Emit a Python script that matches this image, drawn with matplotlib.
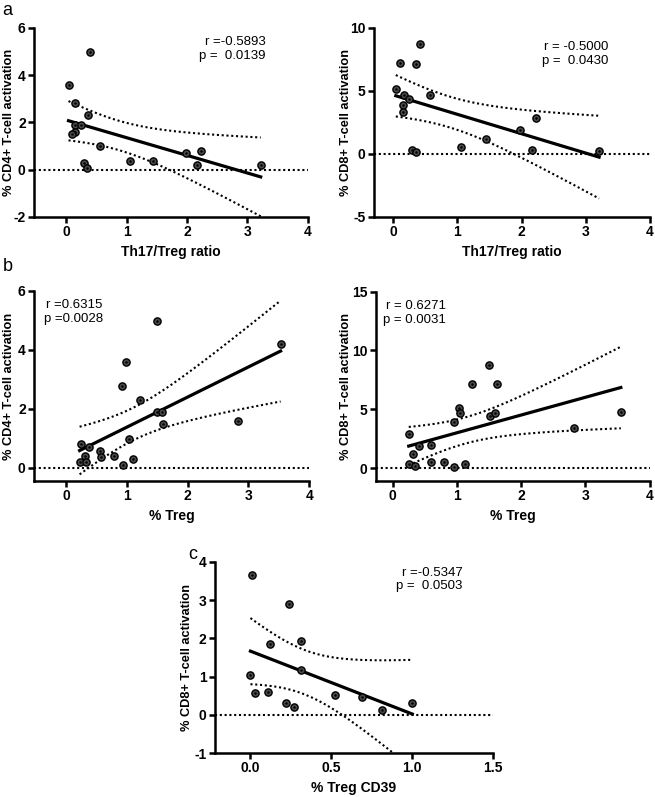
import numpy as np
import matplotlib
matplotlib.use('Agg')
import matplotlib.pyplot as plt

plt.rcParams['font.family'] = ['Liberation Sans', 'DejaVu Sans']
plt.rcParams['axes.unicode_minus'] = False

# panel a, left: Th17/Treg ratio vs CD4+ activation
a1_x = [0.04, 0.40, 0.14, 0.36, 0.15, 0.24, 0.15, 0.10, 0.56, 0.30, 0.35,
        1.06, 1.44, 1.98, 2.23, 2.17, 3.22]
a1_y = [3.60, 5.00, 2.80, 2.30, 1.90, 1.90, 1.57, 1.50, 1.00, 0.28, 0.08,
        0.38, 0.38, 0.70, 0.78, 0.18, 0.18]
# panel a, right: Th17/Treg ratio vs CD8+ activation
a2_x = [0.04, 0.10, 0.41, 0.36, 0.17, 0.25, 0.15, 0.15, 0.57, 0.30, 0.35,
        1.06, 1.44, 1.98, 2.23, 2.16, 3.21]
a2_y = [5.12, 7.18, 8.76, 7.12, 4.64, 4.38, 3.85, 3.35, 4.64, 0.29, 0.13,
        0.53, 1.16, 1.90, 2.88, 0.34, 0.21]
# panel b, left: % Treg vs CD4+ activation
b1_x = [1.49, 0.99, 0.92, 1.21, 1.50, 1.57, 1.60, 3.53, 2.82, 0.24,
        0.38, 0.31, 0.22, 0.32, 1.03, 0.56, 0.57, 0.78, 1.10, 0.94]
b1_y = [4.98, 3.58, 2.79, 2.30, 1.89, 1.89, 1.50, 4.19, 1.59, 0.80,
        0.70, 0.41, 0.19, 0.19, 0.99, 0.56, 0.38, 0.39, 0.29, 0.09]
# panel b, right: % Treg vs CD8+ activation
b2_x = [1.50, 1.23, 1.62, 1.03, 1.05, 1.52, 1.59, 0.95, 3.55, 2.82,
        0.26, 0.41, 0.59, 0.32, 0.25, 0.34, 0.60, 0.80, 0.96, 1.12]
b2_y = [8.80, 7.16, 7.16, 5.15, 4.67, 4.39, 4.67, 3.88, 4.75, 3.37,
        2.89, 1.87, 1.92, 1.19, 0.34, 0.20, 0.51, 0.48, 0.11, 0.31]
# panel c: % Treg CD39 vs CD8+ activation
c_x = [0.01, 0.24, 0.31, 0.12, 0.00, 0.31, 0.03, 0.11, 0.22, 0.27,
       0.52, 0.69, 0.81, 1.00]
c_y = [3.67, 2.90, 1.93, 1.86, 1.05, 1.17, 0.57, 0.61, 0.32, 0.21,
       0.51, 0.48, 0.13, 0.30]

# t(0.975, n-2) for the 95% confidence bands
t_crit = {15: 2.131, 18: 2.101, 12: 2.179}

stats_a1 = 'r =-0.5893\np =  0.0139'
stats_a2 = 'r = -0.5000\np =  0.0430'
stats_b1 = 'r =0.6315\np =0.0028'
stats_b2 = 'r = 0.6271\np = 0.0031'
stats_c = 'r =-0.5347\np =  0.0503'

fig = plt.figure(figsize=(6.55, 7.97), dpi=100)
dots = (0, (1, 1.3))


def panel(rect, x, y, xlim, ylim, xticks, yticks, xlabel, ylabel, stats, stx, sty, ylx, xfmt=None):
    ax = fig.add_axes(rect)
    x = np.asarray(x)
    y = np.asarray(y)
    n = len(x)
    slope, icpt = np.polyfit(x, y, 1)
    xs = np.linspace(x.min(), x.max(), 100)
    yh = slope * xs + icpt
    resid = y - (slope * x + icpt)
    s = np.sqrt(np.sum(resid ** 2) / (n - 2))
    sxx = np.sum((x - x.mean()) ** 2)
    half = t_crit[n - 2] * s * np.sqrt(1.0 / n + (xs - x.mean()) ** 2 / sxx)
    ax.axhline(0, color='black', lw=1.5, ls=dots, clip_on=False, zorder=1)
    ax.plot(xs, yh + half, color='black', lw=1.5, ls=dots, zorder=2)
    ax.plot(xs, yh - half, color='black', lw=1.5, ls=dots, zorder=2)
    ax.plot(xs, yh, color='black', lw=2.3, zorder=3)
    ax.plot(x, y, 'o', ms=5.2, mfc='#4a4a4a', mec='black', mew=1.0, zorder=4)
    ax.plot(x, y, '.', ms=1.5, color='black', zorder=5)
    ax.set_xlim(*xlim)
    ax.set_ylim(*ylim)
    ax.set_xticks(xticks)
    ax.set_yticks(yticks)
    if xfmt:
        ax.set_xticklabels([xfmt % v for v in xticks])
    for sp in ['top', 'right']:
        ax.spines[sp].set_visible(False)
    for sp in ['left', 'bottom']:
        ax.spines[sp].set_linewidth(1.8)
    ax.tick_params(width=1.8, length=4, labelsize=10, pad=2)
    for lab in ax.get_xticklabels() + ax.get_yticklabels():
        lab.set_fontweight('bold')
    ax.set_xlabel(xlabel, fontsize=10, fontweight='bold', labelpad=4)
    ax.set_ylabel(ylabel, fontsize=9.2, fontweight='bold')
    ax.yaxis.set_label_coords(ylx, 0.5)
    ax.text(stx, sty, stats, transform=ax.transAxes, fontsize=9.5, ha='right', va='top',
            linespacing=1.2, multialignment='right')
    return ax


panel([0.052, 0.728, 0.418, 0.237], a1_x, a1_y, (-0.53, 4), (-2, 6), [0, 1, 2, 3, 4],
      [-2, 0, 2, 4, 6], 'Th17/Treg ratio', '% CD4+ T-cell activation', stats_a1,
      0.847, 0.955, -0.07)
panel([0.571, 0.728, 0.421, 0.237], a2_x, a2_y, (-0.3, 4), (-5, 10), [0, 1, 2, 3, 4],
      [-5, 0, 5, 10], 'Th17/Treg ratio', '% CD8+ T-cell activation', stats_a2,
      0.85, 0.93, -0.08)
panel([0.052, 0.3965, 0.42, 0.2385], b1_x, b1_y, (-0.53, 4), (-0.45, 6), [0, 1, 2, 3, 4],
      [0, 2, 4, 6], '% Treg', '% CD4+ T-cell activation', stats_b1,
      0.25, 0.955, -0.07)
panel([0.574, 0.3965, 0.418, 0.2375], b2_x, b2_y, (-0.26, 4), (-1.1, 15), [0, 1, 2, 3, 4],
      [0, 5, 10, 15], '% Treg', '% CD8+ T-cell activation', stats_b2,
      0.255, 0.955, -0.088)
panel([0.328, 0.055, 0.425, 0.24], c_x, c_y, (-0.22, 1.5), (-1, 4), [0.0, 0.5, 1.0, 1.5],
      [-1, 0, 1, 2, 3, 4], '% Treg CD39', '% CD8+ T-cell activation', stats_c,
      0.89, 0.975, -0.078, xfmt='%.1f')

fig.text(0.004, 0.987, 'a', fontsize=13, va='center', ha='left')
fig.text(0.004, 0.666, 'b', fontsize=13, va='center', ha='left')
fig.text(0.287, 0.304, 'c', fontsize=13, va='center', ha='left')

fig.savefig('out.png', dpi=100)
